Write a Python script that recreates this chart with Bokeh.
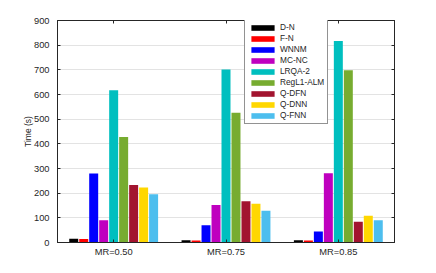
from bokeh.plotting import figure
from bokeh.models import (FactorRange, ColumnDataSource, LinearAxis, CategoricalAxis,
                          SingleIntervalTicker, Legend, CustomJSTickFormatter)
from bokeh.transform import dodge
from bokeh.embed import file_html
from bokeh.resources import INLINE

groups = ["MR=0.50", "MR=0.75", "MR=0.85"]
methods = ["D-N", "F-N", "WNNM", "MC-NC", "LRQA-2", "RegL1-ALM", "Q-DFN", "Q-DNN", "Q-FNN"]
colors = ["#000000", "#FF0000", "#0000FF", "#BF00BF", "#00BFBF", "#77AC30", "#A2142F", "#FFD700", "#4DBEEE"]

d_n = [15, 9, 9]
f_n = [14, 8, 8]
wnnm = [280, 70, 45]
mc_nc = [90, 152, 281]
lrqa_2 = [617, 701, 817]
regl1_alm = [428, 526, 698]
q_dfn = [233, 167, 84]
q_dnn = [223, 157, 108]
q_fnn = [196, 129, 90]
series = [d_n, f_n, wnnm, mc_nc, lrqa_2, regl1_alm, q_dfn, q_dnn, q_fnn]

y_ticks_interval = 100
y_max = 900

data = {"group": groups}
for m, s in zip(methods, series):
    data[m] = s
src = ColumnDataSource(data)

FONT = "Liberation Sans"
AX = "#262626"

p = figure(x_range=FactorRange(*groups, range_padding=0), y_range=(0, y_max),
           width=430, height=265, output_backend="svg", toolbar_location=None,
           min_border_left=57, min_border_top=20, min_border_right=36, min_border_bottom=23)

slot = 0.8 / len(methods)
renderers = []
for i, (m, c) in enumerate(zip(methods, colors)):
    off = (i - (len(methods) - 1) / 2) * slot
    r = p.vbar(x=dodge("group", off, range=p.x_range), top=m, width=slot * 0.9,
               source=src, fill_color=c, line_color=None)
    renderers.append((m, [r]))

p.xgrid.grid_line_color = None
p.ygrid.grid_line_color = "#e3e3e3"
p.ygrid.ticker = SingleIntervalTicker(interval=y_ticks_interval)
p.yaxis.ticker = SingleIntervalTicker(interval=y_ticks_interval)
p.yaxis.minor_tick_line_color = None

for ax in [p.xaxis[0], p.yaxis[0]]:
    ax.axis_line_color = AX
    ax.major_tick_line_color = AX
    ax.major_tick_in = 3
    ax.major_tick_out = 0
    ax.major_label_text_font = FONT
    ax.major_label_text_font_size = "9.3px"
    ax.major_label_text_color = AX
    ax.axis_label_text_font = FONT
    ax.axis_label_text_font_style = "normal"
    ax.axis_label_text_color = AX

p.xaxis.major_label_standoff = 4
p.yaxis.major_label_standoff = 4
p.yaxis.axis_label = "Time (s)"
p.yaxis.axis_label_text_font_size = "8.5px"
p.yaxis.axis_label_standoff = -2

right = LinearAxis(ticker=SingleIntervalTicker(interval=y_ticks_interval),
                   axis_line_color=AX, major_tick_line_color=AX, major_tick_in=3,
                   major_tick_out=0, minor_tick_line_color=None,
                   formatter=CustomJSTickFormatter(code="return ''"))
p.add_layout(right, "right")
top = CategoricalAxis(axis_line_color=AX, major_tick_line_color=AX, major_tick_in=3,
                      major_tick_out=0,
                      formatter=CustomJSTickFormatter(code="return ''"))
p.add_layout(top, "above")

p.outline_line_color = AX

legend = Legend(items=renderers, location=(187, 118))
legend.label_text_font = FONT
legend.label_text_font_size = "8.3px"
legend.label_text_color = AX
legend.label_text_line_height = 1.0
legend.glyph_width = 29
legend.glyph_height = 7
legend.label_height = 9
legend.spacing = 1
legend.padding = 3
legend.margin = 0
legend.label_standoff = 3
legend.border_line_color = AX
legend.border_line_width = 1
legend.background_fill_alpha = 1
p.add_layout(legend, "center")

open("out.html", "w").write(file_html(p, INLINE))
